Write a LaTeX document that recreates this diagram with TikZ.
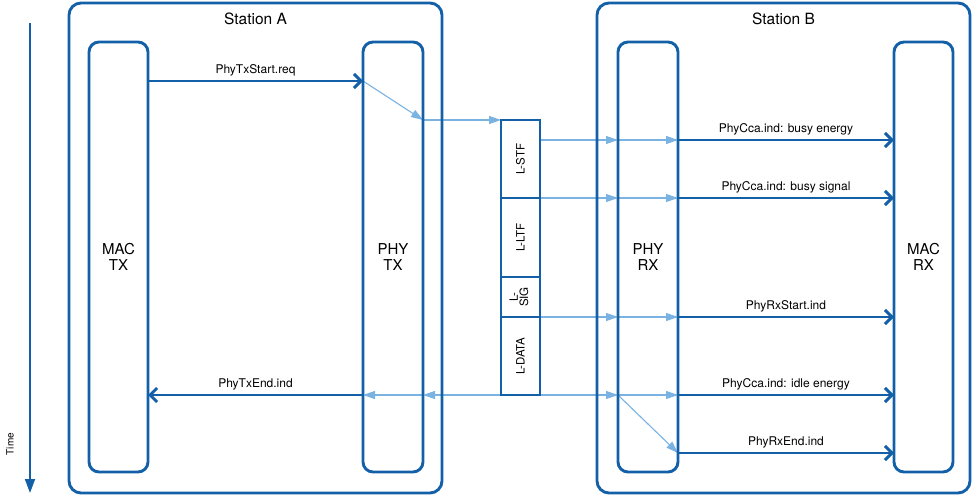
\documentclass[tikz,border=0pt]{standalone}
\usepackage{fontspec}
\setmainfont{TeX Gyre Heros}
\usetikzlibrary{arrows.meta,backgrounds}
\definecolor{dkb}{RGB}{20,96,168}
\definecolor{ltb}{RGB}{122,178,226}
\tikzset{
 station/.style={draw=dkb,line width=2.9pt,rounded corners=12pt,minimum width=373pt,minimum height=490pt,inner sep=0pt,outer sep=0pt},
 unit/.style={draw=dkb,line width=2.9pt,rounded corners=10pt,minimum height=430pt,inner sep=0pt,outer sep=0pt,font=\fontsize{15}{16.5}\selectfont,align=center},
 frm/.style={draw=dkb,line width=2.9pt,minimum width=39pt,inner sep=0pt,outer sep=0pt,font=\fontsize{11.5}{12}\selectfont},
 msg/.style={draw=dkb,line width=2.9pt,-{Straight Barb[length=7pt,width=14pt]}},
 sig/.style={draw=ltb,line width=1.1pt,-{Triangle[length=12pt,width=8pt]}},
 lbl/.style={font=\fontsize{12}{14}\selectfont,anchor=base,inner sep=0pt,midway,yshift=7.5pt},
 ttl/.style={font=\fontsize{15.5}{17}\selectfont,anchor=base,inner sep=0pt},
}
\begin{document}
\begin{tikzpicture}[x=1pt,y=-1pt]
\useasboundingbox (0,0) rectangle (975,497);
% stations
\node[station] (stA) at (255.5,248) {};
\node[station] (stB) at (783.5,248) {};
\node[ttl] (tA) at (255.5,25) {Station A};
\node[ttl] (tB) at (783.5,25) {Station B};
% units
\node[unit,minimum width=59pt] (mactx) at (118.5,257) {MAC\\TX};
\node[unit,minimum width=60pt] (phytx) at (393,257) {PHY\\TX};
\node[unit,minimum width=60pt] (phyrx) at (648,257) {PHY\\RX};
\node[unit,minimum width=59pt] (macrx) at (923.5,257) {MAC\\RX};
% frame
\node[frm,minimum height=78pt] (lstf) at (520.5,159) {\rotatebox{90}{L-STF}};
\node[frm,minimum height=79pt] (lltf) at (520.5,237.5) {\rotatebox{90}{L-LTF}};
\node[frm,minimum height=40pt] (lsig) at (520.5,297) {\rotatebox{90}{\begin{tabular}{@{}c@{}}L-\\[-2pt]SIG\end{tabular}}};
\node[frm,minimum height=78pt] (ldata) at (520.5,356) {\rotatebox{90}{L-DATA}};
% time axis
\coordinate (t0) at (30,23);
\coordinate (t1) at (30,493);
\draw[dkb,line width=1.8pt,-{Triangle[length=14pt,width=10pt]}] (t0) -- (t1);
\node[rotate=90,font=\fontsize{10}{11}\selectfont,inner sep=0pt] (time) at (10,444) {Time};
% light signal lines
\begin{scope}[on background layer]
\draw[sig] (phytx.west |- 0,81) -- (phytx.east |- 0,120);
\draw[sig] (phytx.east |- 0,120) -- (lstf.north west);
\draw[sig] (lstf.east |- 0,140) -- (phyrx.west |- 0,140);
\draw[sig] (phyrx.west |- 0,140) -- (phyrx.east |- 0,140);
\draw[sig] (lstf.south east) -- (phyrx.west |- lstf.south east);
\draw[sig] (phyrx.west |- lstf.south east) -- (phyrx.east |- lstf.south east);
\draw[sig] (lsig.south east) -- (phyrx.west |- lsig.south east);
\draw[sig] (phyrx.west |- lsig.south east) -- (phyrx.east |- lsig.south east);
\draw[sig] (ldata.south east) -- (phyrx.west |- ldata.south east);
\draw[sig] (phyrx.west |- ldata.south east) -- (phyrx.east |- ldata.south east);
\draw[sig] (ldata.south west) -- (phytx.east |- ldata.south west);
\draw[sig] (phytx.east |- ldata.south west) -- (phytx.west |- ldata.south west);
\draw[sig] (phyrx.west |- ldata.south east) -- (phyrx.east |- 0,453);
\end{scope}
% messages
\draw[msg] (mactx.east |- 0,81) -- (phytx.west |- 0,81) node[lbl] {PhyTxStart.req};
\draw[msg] (phytx.west |- 0,395) -- (mactx.east |- 0,395) node[lbl] {PhyTxEnd.ind};
\draw[msg] (phyrx.east |- 0,140) -- (macrx.west |- 0,140) node[lbl] {PhyCca.ind: busy energy};
\draw[msg] (phyrx.east |- lstf.south east) -- (macrx.west |- lstf.south east) node[lbl] {PhyCca.ind: busy signal};
\draw[msg] (phyrx.east |- lsig.south east) -- (macrx.west |- lsig.south east) node[lbl] {PhyRxStart.ind};
\draw[msg] (phyrx.east |- ldata.south east) -- (macrx.west |- ldata.south east) node[lbl] {PhyCca.ind: idle energy};
\draw[msg] (phyrx.east |- 0,453) -- (macrx.west |- 0,453) node[lbl] {PhyRxEnd.ind};
\end{tikzpicture}
\end{document}
